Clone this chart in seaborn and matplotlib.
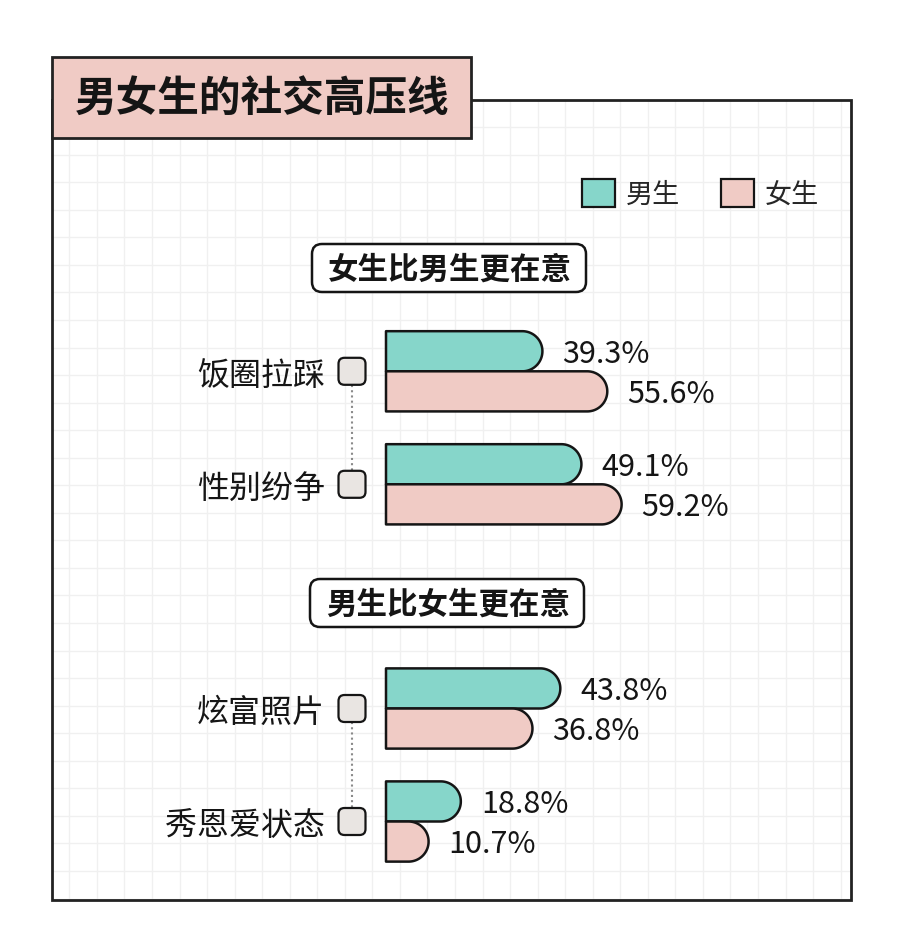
import numpy as np
import pandas as pd
import seaborn as sns
import matplotlib.pyplot as plt
from matplotlib.patches import Polygon, Rectangle, FancyBboxPatch, Patch

# Daten
top_items = ["饭圈拉踩", "性别纷争"]
top_male = [39.3, 49.1]
top_female = [55.6, 59.2]

bottom_items = ["炫富照片", "秀恩爱状态"]
bottom_male = [43.8, 18.8]
bottom_female = [36.8, 10.7]

genders = ["男生", "女生"]
title = "男女生的社交高压线"
section_titles = ["女生比男生更在意", "男生比女生更在意"]

teal = "#86d6ca"
pink = "#f0cbc5"
ink = "#151515"

sns.set_theme(style="white")
plt.rcParams["font.family"] = ["Noto Sans CJK SC", "DejaVu Sans"]

W, H = 900, 937
fig = plt.figure(figsize=(W / 100, H / 100), dpi=100)
fig.patch.set_facecolor("white")

# Hintergrund in Pixelkoordinaten
bg = fig.add_axes([0, 0, 1, 1], zorder=0)
bg.set_xlim(0, W)
bg.set_ylim(H, 0)
bg.axis("off")

fx0, fx1, fy0, fy1 = 52, 851, 101, 901
step = 27.55
for gx in np.arange(69.3, fx1, step):
    bg.plot([gx, gx], [fy0, fy1], color="#f0f0f0", lw=1, zorder=1)
for gy in np.arange(128.1, fy1, step):
    bg.plot([fx0, fx1], [gy, gy], color="#f0f0f0", lw=1, zorder=1)
bg.add_patch(Rectangle((fx0, fy0), fx1 - fx0, fy1 - fy0, fill=False,
                       edgecolor="#222222", lw=2, zorder=2))

# Titelbox
bg.add_patch(Rectangle((52, 58), 419, 81, facecolor=pink, edgecolor="#222222",
                       lw=2, zorder=3))
bg.text(75, 99, title, fontsize=30, fontweight="bold", color=ink,
        ha="left", va="center", zorder=4)

# Abschnittsboxen
for (bx, by), txt in zip([(312, 245), (310, 580)], section_titles):
    bg.add_patch(FancyBboxPatch((bx, by), 274, 48, boxstyle="round,pad=0,rounding_size=10",
                                facecolor="white", edgecolor=ink, lw=1.8, zorder=3))
    bg.text(bx + 138, by + 25, txt, fontsize=22, fontweight="bold", color=ink,
            ha="center", va="center", zorder=4)

# Legende
fig.legend(handles=[Patch(facecolor=teal, edgecolor=ink, lw=1.6),
                    Patch(facecolor=pink, edgecolor=ink, lw=1.6)],
           labels=genders, loc="upper left", bbox_to_anchor=(582 / W, 1 - 180 / H),
           ncol=2, frameon=False, fontsize=19.5, handlelength=1.22, handleheight=1.22,
           handletextpad=0.4, columnspacing=1.5, borderpad=0, borderaxespad=0)

scale = 3.98      # px pro Prozent
bar_x0 = 386
unit = 113        # px pro Kategorie
ax_w = 420


def draw_group(items, male, female, center0):
    df = pd.DataFrame({
        "item": items * 2,
        "pct": male + female,
        "gender": [genders[0]] * len(items) + [genders[1]] * len(items),
    })
    top_px = center0 - unit / 2
    ax = fig.add_axes([bar_x0 / W, 1 - (top_px + 2 * unit) / H, ax_w / W, 2 * unit / H], zorder=5)
    ax.patch.set_alpha(0)
    sns.barplot(data=df, y="item", x="pct", hue="gender", order=items,
                hue_order=genders, palette=[teal, pink], saturation=1, orient="h",
                width=0.71, legend=False, ax=ax)
    ax.set_xlim(0, ax_w / scale)
    ax.set_ylim(len(items) - 0.5, -0.5)
    sx = ax_w / (ax_w / scale)
    sy = unit

    # rechteckige Balken durch Balken mit runden Enden ersetzen
    for p in list(ax.patches):
        x1, y, h = p.get_width(), p.get_y(), p.get_height()
        fc = p.get_facecolor()
        p.remove()
        if x1 <= 0:
            continue
        ry = h / 2
        rx = ry * sy / sx
        yc = y + ry
        t = np.linspace(-np.pi / 2, np.pi / 2, 60)
        arc = np.column_stack([x1 - rx + rx * np.cos(t), yc + ry * np.sin(t)])
        pts = np.vstack([[0, y], arc, [0, y + h]])
        ax.add_patch(Polygon(pts, closed=True, facecolor=fc, edgecolor=ink,
                             lw=1.8, joinstyle="round", clip_on=False))
        ax.text(x1 + 20 / sx, yc + 0.02, f"{x1:.1f}%", fontsize=22, color=ink,
                ha="left", va="center")

    sns.despine(ax=ax, left=True, bottom=True)
    ax.set_xticks([])
    ax.set_xlabel("")
    ax.set_ylabel("")
    ax.tick_params(axis="y", length=0, pad=44, labelsize=23, labelcolor=ink)

    # kleine Quadrate und gepunktete Verbindung
    sq = 27
    centers = [center0 + i * unit for i in range(len(items))]
    bg.plot([352, 352], [centers[0] + sq / 2, centers[-1] - sq / 2], color="#8a8a8a",
            lw=1.5, ls=(0, (1, 1.5)), zorder=3)
    for cy in centers:
        bg.add_patch(FancyBboxPatch((352 - sq / 2, cy - sq / 2), sq, sq,
                                    boxstyle="round,pad=0,rounding_size=6",
                                    facecolor="#e9e5e2", edgecolor=ink, lw=1.6, zorder=4))
    return ax


draw_group(top_items, top_male, top_female, 372.3)
draw_group(bottom_items, bottom_male, bottom_female, 709.5)

fig.savefig("out.png", dpi=100)
